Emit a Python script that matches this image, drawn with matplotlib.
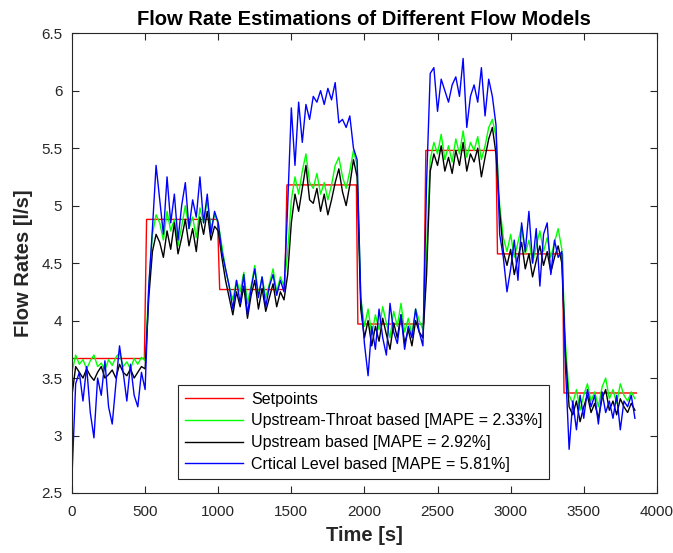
import numpy as np
import matplotlib.pyplot as plt

plt.rcParams['font.family'] = ['Liberation Sans', 'DejaVu Sans']

# time base of the estimates [s]
t = np.arange(0, 3875, 25)

# setpoints (step profile)
sp_t = [0, 495, 510, 995, 1010, 1455, 1470, 1945, 1955, 2405, 2420, 2900, 2910, 3355, 3365, 3860]
sp_v = [3.67, 3.67, 4.88, 4.88, 4.27, 4.27, 5.18, 5.18, 3.97, 3.97, 5.48, 5.48, 4.58, 4.58, 3.37, 3.37]

# upstream-throat based estimate
q_ut = [3.55, 3.70, 3.62, 3.66, 3.58, 3.65, 3.70, 3.60, 3.63, 3.57, 3.66, 3.61, 3.68, 3.72, 3.60, 3.64, 3.58, 3.67, 3.62, 3.68, 3.65,
        4.30, 4.75, 4.92, 4.85, 4.70, 4.95, 4.78, 4.88, 4.65, 4.82, 5.00, 4.80, 4.90, 4.72, 4.98, 4.85, 5.05, 4.80, 4.92, 4.85,
        4.65, 4.45, 4.30, 4.18, 4.35, 4.25, 4.42, 4.15, 4.30, 4.48, 4.22, 4.38, 4.20, 4.32, 4.45, 4.25, 4.38, 4.30,
        4.60, 5.05, 5.25, 5.10, 5.30, 5.45, 5.20, 5.15, 5.28, 5.10, 5.20, 5.05, 5.18, 5.35, 5.42, 5.25, 5.15, 5.30, 5.48, 5.35,
        4.20, 3.95, 4.10, 3.88, 4.05, 3.92, 4.12, 3.98, 3.85, 4.08, 3.95, 4.15, 3.90, 4.02, 3.88, 4.10, 4.00, 3.92,
        4.60, 5.40, 5.55, 5.45, 5.62, 5.40, 5.52, 5.38, 5.58, 5.45, 5.65, 5.42, 5.55, 5.48, 5.60, 5.40, 5.52, 5.68, 5.75, 5.60,
        5.00, 4.72, 4.60, 4.75, 4.55, 4.68, 4.82, 4.58, 4.70, 4.50, 4.65, 4.78, 4.60, 4.72, 4.55, 4.68, 4.80, 4.62,
        3.80, 3.35, 3.28, 3.40, 3.22, 3.35, 3.45, 3.30, 3.38, 3.25, 3.42, 3.50, 3.32, 3.40, 3.28, 3.45, 3.35, 3.30, 3.38, 3.32]

# upstream based estimate
q_up = [3.35, 3.60, 3.55, 3.50, 3.58, 3.52, 3.48, 3.55, 3.60, 3.50, 3.53, 3.57, 3.50, 3.62, 3.55, 3.52, 3.58, 3.50, 3.55, 3.60, 3.58,
        4.20, 4.60, 4.75, 4.68, 4.55, 4.78, 4.62, 4.85, 4.58, 4.72, 4.88, 4.65, 4.80, 4.60, 4.90, 4.75, 4.95, 4.70, 4.82, 4.78,
        4.55, 4.35, 4.20, 4.05, 4.25, 4.12, 4.30, 4.02, 4.22, 4.35, 4.10, 4.28, 4.08, 4.20, 4.32, 4.12, 4.25, 4.18,
        4.40, 4.85, 5.10, 4.95, 5.15, 5.35, 5.05, 5.02, 5.15, 4.95, 5.10, 4.92, 5.05, 5.20, 5.32, 5.12, 5.00, 5.18, 5.40, 5.25,
        4.10, 3.85, 4.00, 3.78, 3.95, 3.82, 4.02, 3.88, 3.75, 3.98, 3.85, 4.05, 3.80, 3.92, 3.78, 4.00, 3.90, 3.85,
        4.40, 5.30, 5.45, 5.35, 5.52, 5.30, 5.42, 5.28, 5.48, 5.35, 5.55, 5.30, 5.45, 5.38, 5.50, 5.25, 5.42, 5.58, 5.68, 5.45,
        4.95, 4.60, 4.48, 4.62, 4.40, 4.55, 4.68, 4.45, 4.58, 4.38, 4.52, 4.65, 4.48, 4.60, 4.42, 4.55, 4.65, 4.50,
        3.70, 3.25, 3.18, 3.30, 3.12, 3.25, 3.35, 3.20, 3.28, 3.15, 3.32, 3.40, 3.22, 3.30, 3.18, 3.32, 3.25, 3.20, 3.28, 3.22]

# critical level based estimate
q_cl = [2.65, 3.45, 3.55, 3.30, 3.60, 3.20, 2.98, 3.50, 3.35, 3.65, 3.25, 3.10, 3.45, 3.78, 3.55, 3.30, 3.62, 3.35, 3.25, 3.55, 3.40,
        4.30, 4.80, 5.35, 5.05, 4.75, 5.25, 4.85, 5.10, 4.70, 5.00, 5.20, 4.80, 5.05, 4.90, 5.25, 4.85, 5.10, 4.75, 4.95, 4.85,
        4.60, 4.45, 4.30, 4.10, 4.35, 4.15, 4.40, 4.05, 4.28, 4.45, 4.20, 4.38, 4.12, 4.30, 4.40, 4.22, 4.35, 4.25,
        5.00, 5.85, 5.35, 5.90, 5.55, 5.88, 5.75, 5.95, 5.90, 6.00, 5.88, 6.02, 5.92, 6.07, 5.72, 5.75, 5.68, 5.78, 5.50, 5.40,
        4.20, 3.80, 3.52, 3.95, 3.75, 4.10, 3.85, 3.70, 4.15, 3.90, 3.80, 4.05, 3.75, 3.95, 3.85, 4.10, 3.90, 3.78,
        5.20, 6.15, 6.20, 5.82, 6.10, 6.00, 5.90, 6.05, 6.12, 5.95, 6.28, 5.68, 5.95, 6.05, 5.90, 6.20, 5.78, 6.10, 5.95, 5.70,
        4.75, 4.55, 4.25, 4.45, 4.70, 4.35, 4.85, 4.60, 4.95, 4.50, 4.80, 4.30, 4.75, 4.85, 4.40, 4.70, 4.55, 4.60,
        3.60, 2.88, 3.30, 3.05, 3.35, 3.15, 3.40, 3.25, 3.35, 3.10, 3.38, 3.20, 3.30, 3.15, 3.35, 3.05, 3.30, 3.25, 3.35, 3.15]

fig = plt.figure(figsize=(6.73, 5.53), dpi=100)
ax = fig.add_axes([0.107, 0.1085, 0.869, 0.8315])

ax.plot(sp_t, sp_v, color='r', lw=1, label='Setpoints')
ax.plot(t, q_ut, color=(0, 1, 0), lw=1, label='Upstream-Throat based [MAPE = 2.33%]')
ax.plot(t, q_up, color='k', lw=1, label='Upstream based [MAPE = 2.92%]')
ax.plot(t, q_cl, color='b', lw=1, label='Crtical Level based [MAPE = 5.81%]')

ax.set_xlim(0, 4000)
ax.set_ylim(2.5, 6.5)
ax.set_xticks(np.arange(0, 4001, 500))
ax.set_yticks(np.arange(2.5, 6.51, 0.5))
ax.set_yticklabels(['2.5', '3', '3.5', '4', '4.5', '5', '5.5', '6', '6.5'])
ax.tick_params(direction='in', top=True, right=True, labelsize=11, length=5, color='0.15', labelcolor='0.15')
ax.tick_params(axis='y', pad=7)
ax.tick_params(axis='x', pad=9)
for s in ax.spines.values():
    s.set_color('0.15')
    s.set_linewidth(0.8)

ax.set_title('Flow Rate Estimations of Different Flow Models', fontsize=14.5, fontweight='bold', pad=6)
ax.set_xlabel('Time [s]', fontsize=14.5, fontweight='bold', color='0.15', labelpad=5)
ax.set_ylabel('Flow Rates [l/s]', fontsize=14.5, fontweight='bold', color='0.15', labelpad=6)

leg = ax.legend(loc='lower left', bbox_to_anchor=(0.168, 0.013), fontsize=11.5, fancybox=False,
                framealpha=1, edgecolor='0.15', handlelength=3.6, handletextpad=0.5,
                borderpad=0.45, labelspacing=0.42)
leg.get_frame().set_linewidth(0.8)

fig.savefig('out.png', dpi=100)
